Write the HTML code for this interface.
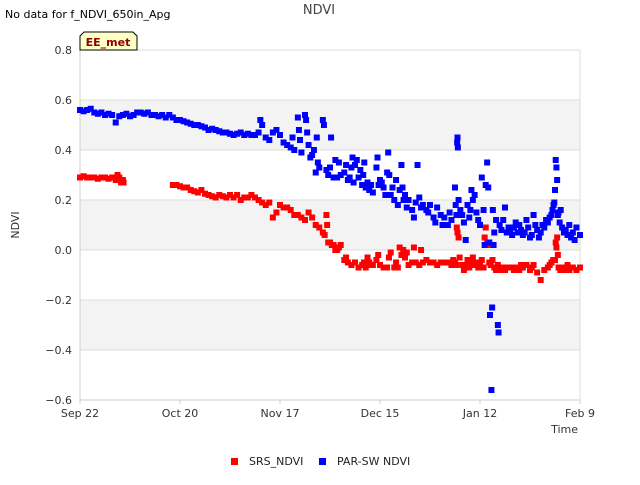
<!DOCTYPE html>
<html><head><meta charset="utf-8"><style>
body{margin:0;background:#fff;font-family:"Liberation Sans","DejaVu Sans",sans-serif;}
</style></head><body>
<svg id="chart" width="640" height="480" xmlns="http://www.w3.org/2000/svg" font-family="DejaVu Sans, Liberation Sans, sans-serif">
<text x="5" y="18" font-size="11" fill="#000">No data for f_NDVI_650in_Apg</text>
<text x="319" y="14" font-size="13" fill="#444" text-anchor="middle">NDVI</text>
<g id="bands"></g><g id="grid"></g>
<line x1="80" y1="50" x2="80" y2="400" stroke="#ccc"/>
<line x1="80" y1="400" x2="580" y2="400" stroke="#ccc"/>
<line x1="580" y1="50" x2="580" y2="400" stroke="#ddd"/>
<g id="yticks"></g><g id="xticks"></g>
<text transform="translate(19,225) rotate(-90)" font-size="11" fill="#333" text-anchor="middle">NDVI</text>
<text x="578" y="433" font-size="11" fill="#333" text-anchor="end">Time</text>
<g id="marks"></g>
<g>
<path d="M80,50 L80,36 L84,32 L133,32 L137,36 L137,50 Z" fill="#ffffc8" stroke="#000" stroke-width="1"/>
<text x="108" y="46" font-size="11" font-weight="bold" fill="#8b0000" text-anchor="middle">EE_met</text>
</g>
<g>
<rect x="231" y="458" width="7" height="7" fill="#f00"/>
<text x="249" y="465" font-size="11" fill="#222">SRS_NDVI</text>
<rect x="319" y="458" width="7" height="7" fill="#00f"/>
<text x="337" y="465" font-size="11" fill="#222">PAR-SW NDVI</text>
</g>
</svg>
<script>
const yTicks=[0.8,0.6,0.4,0.2,0.0,-0.2,-0.4,-0.6];
const yTickLabels=["0.8","0.6","0.4","0.2","0.0","\u22120.2","\u22120.4","\u22120.6"];
const xTickDays=[0,28,56,84,112,140];
const xTickLabels=["Sep 22","Oct 20","Nov 17","Dec 15","Jan 12","Feb 9"];
const srsPoints=[[0,0.29],[1,0.295],[2,0.29],[3,0.29],[4,0.29],[5,0.285],[6,0.29],[7,0.29],[8,0.285],[9,0.29],[10,0.28],[10.5,0.30],[11,0.29],[11.5,0.27],[12,0.28],[12.2,0.27],
[26,0.26],[27,0.26],[28,0.255],[29,0.25],[30,0.25],[31,0.24],[32,0.235],[33,0.23],[34,0.24],[35,0.225],[36,0.22],[37,0.215],[38,0.21],[39,0.22],[40,0.215],
[41,0.21],[42,0.22],[43,0.21],[44,0.22],[45,0.20],[46,0.21],[47,0.21],[48,0.22],[49,0.21],[50,0.20],
[51,0.19],[52,0.18],[53,0.19],[54,0.13],[55,0.15],[56,0.18],[57,0.17],[58,0.17],[59,0.16],[60,0.14],
[61,0.14],[62,0.13],[63,0.12],[64,0.15],[65,0.13],[66,0.10],[67,0.09],[68,0.07],[68.5,0.06],[69,0.14],[69.2,0.10],[69.5,0.03],
[70,0.03],[70.5,0.02],[71,0.02],[71.5,0.0],[72,0.0],[72.5,0.01],[73,0.02],[74,-0.04],[74.5,-0.03],[75,-0.05],[76,-0.06],[77,-0.05],[78,-0.07],[79,-0.06],[79.5,-0.05],[80,-0.07],[80.5,-0.03],[81,-0.05],[81.5,-0.06],[82,-0.06],[83,-0.04],[83.5,-0.02],[84,-0.06],[85,-0.07],[86,-0.07],[86.5,-0.03],[87,-0.01],[88,-0.07],[88.5,-0.05],[89,-0.07],[89.5,0.01],[90,-0.02],[90.5,0.0],[91,-0.03],[91.5,-0.01],[92,-0.06],[93,-0.05],[93.5,0.01],[94,-0.05],[95,-0.06],[95.5,0.0],[96,-0.05],[97,-0.04],[98,-0.05],[99,-0.05],[100,-0.06],[101,-0.05],[102,-0.05],[103,-0.05],[104,-0.06],[104.5,-0.04],[105,-0.05],[105.3,-0.06],[105.5,0.09],[105.7,0.07],[106,0.05],[106.3,-0.03],[107,-0.06],[107.5,-0.08],[108,-0.06],[108.5,-0.04],[109,-0.07],[109.5,-0.05],[110,-0.03],[110.5,-0.06],[111,-0.05],[111.5,-0.07],[112,-0.06],[112.5,-0.04],[113,-0.07],[113.3,0.05],[113.6,0.09],[114,0.03],[114.3,0.02],[114.6,-0.05],[115,-0.06],[115.5,-0.04],[116,-0.07],[116.5,-0.08],[117,-0.06],[117.5,-0.08],[118,-0.07],[119,-0.08],[119.5,-0.07],[120,-0.07],[121,-0.07],[121.5,-0.08],[122,-0.07],[123,-0.08],[123.5,-0.06],[124,-0.07],[125,-0.06],[126,-0.08],[126.5,-0.07],[127,-0.06],[128,-0.09],[129,-0.12],[130,-0.08],[131,-0.07],[131.5,-0.06],[132,-0.05],[132.5,-0.04],[133,-0.04],[133.2,0.03],[133.4,0.01],[133.6,0.05],[133.8,-0.02],[134,-0.07],[134.5,-0.08],[135,-0.07],[136,-0.08],[136.5,-0.06],[137,-0.08],[138,-0.07],[139,-0.08],[140,-0.07]];
const parPoints=[[0,0.56],[1,0.555],[2,0.56],[3,0.565],[4,0.55],[5,0.545],[6,0.55],[7,0.54],[8,0.545],[9,0.54],[10,0.51],[11,0.535],[12,0.54],[13,0.545],[14,0.535],[15,0.54],[16,0.55],[17,0.55],[18,0.545],[19,0.55],[20,0.54],[21,0.54],[22,0.535],[23,0.54],[24,0.53],[25,0.54],[26,0.53],[27,0.52],[28,0.52],[29,0.515],[30,0.51],[31,0.505],[32,0.50],[33,0.50],[34,0.495],[35,0.49],[36,0.48],[37,0.485],[38,0.48],[39,0.475],[40,0.47],
[41,0.47],[42,0.465],[43,0.46],[44,0.465],[45,0.47],[46,0.46],[47,0.465],[48,0.46],[49,0.46],[50,0.47],[50.5,0.52],[51,0.50],[52,0.45],[53,0.44],[54,0.47],[55,0.48],
[56,0.46],[57,0.43],[58,0.42],[59,0.41],[59.5,0.45],[60,0.40],[61,0.53],[61.3,0.48],[61.6,0.44],[62,0.39],[63,0.54],[63.3,0.52],[63.6,0.47],[64,0.42],[64.5,0.37],[65,0.38],[65.5,0.40],[66,0.31],[66.3,0.45],[66.6,0.35],[67,0.33],[68,0.52],[68.3,0.50],[69,0.32],[69.5,0.30],[70,0.33],[70.3,0.45],
[71,0.29],[71.5,0.36],[72,0.29],[72.5,0.35],[73,0.30],[74,0.31],[74.5,0.34],[75,0.28],[75.5,0.29],[76,0.33],[76.3,0.37],[76.6,0.27],[77,0.34],[77.5,0.36],[78,0.29],[78.5,0.32],[79,0.26],[79.3,0.30],[79.6,0.35],[80,0.25],[80.5,0.27],[81,0.24],[81.5,0.26],[82,0.23],[83,0.33],[83.3,0.37],[83.6,0.26],[84,0.28],[84.5,0.27],[85,0.25],[85.5,0.22],[86,0.31],[86.3,0.39],[86.6,0.30],[87,0.22],[87.5,0.25],[88,0.20],[88.5,0.28],[89,0.18],[89.5,0.24],[90,0.34],[90.3,0.25],[90.6,0.20],[91,0.22],[91.5,0.17],[92,0.20],[93,0.16],[93.5,0.13],[94,0.19],[94.5,0.34],[95,0.21],[95.5,0.17],[96,0.18],[97,0.16],[97.5,0.15],[98,0.18],[99,0.13],[99.5,0.11],[100,0.17],[101,0.14],[101.5,0.10],[102,0.13],[103,0.10],[103.5,0.15],[104,0.12],[105,0.25],[105.2,0.18],[105.4,0.14],[105.6,0.43],[105.7,0.45],[105.8,0.41],[106,0.20],[106.5,0.16],[107,0.14],[107.5,0.11],[108,0.04],[108.5,0.18],[109,0.13],[109.3,0.16],[109.6,0.24],[110,0.20],[110.5,0.22],[111,0.15],[111.5,0.12],[112,0.10],[112.5,0.29],[113,0.16],[113.3,0.02],[113.6,0.26],[114,0.35],[114.3,0.25],[114.6,0.03],[114.8,-0.26],[115.2,-0.56],[115.4,-0.23],[115.6,0.16],[115.8,0.02],[116,0.07],[116.5,0.12],[117,-0.30],[117.2,-0.33],[117.5,0.10],[118,0.08],[118.5,0.12],[119,0.17],[119.5,0.07],[120,0.09],[120.5,0.08],[121,0.06],[121.5,0.09],[122,0.11],[122.5,0.07],[123,0.10],[123.5,0.08],[124,0.06],[124.5,0.07],[125,0.12],[125.5,0.09],[126,0.05],[126.5,0.06],[127,0.14],[127.5,0.10],[128,0.08],[128.5,0.05],[129,0.07],[129.5,0.10],[130,0.09],[130.5,0.12],[131,0.11],[131.5,0.13],[132,0.14],[132.3,0.16],[132.6,0.18],[132.8,0.19],[133,0.24],[133.2,0.36],[133.4,0.33],[133.6,0.28],[133.8,0.14],[134,0.15],[134.3,0.11],[134.6,0.16],[135,0.09],[135.5,0.07],[136,0.08],[136.5,0.06],[137,0.10],[137.5,0.05],[138,0.07],[138.5,0.04],[139,0.09],[140,0.06]];
const NS="http://www.w3.org/2000/svg";
const X0=80,X1=580,Y0=50,Y1=400,DMAX=140,VMIN=-0.6,VMAX=0.8;
function xScale(d){return X0+d*(X1-X0)/DMAX;}
function yScale(v){return Y1-(v-VMIN)*(Y1-Y0)/(VMAX-VMIN);}
function mk(tag,attrs,parent){const e=document.createElementNS(NS,tag);for(const k in attrs)e.setAttribute(k,attrs[k]);parent.appendChild(e);return e;}
const bands=document.getElementById('bands'),grid=document.getElementById('grid'),yt=document.getElementById('yticks'),xt=document.getElementById('xticks'),marks=document.getElementById('marks');
[[0.6,0.4],[0.2,0.0],[-0.2,-0.4]].forEach(b=>{const r=mk('rect',{x:X0,y:yScale(b[0]),width:X1-X0,height:yScale(b[1])-yScale(b[0]),fill:'#f3f3f3'},bands);

});
yTicks.forEach((v,i)=>{const l=mk('line',{x1:X0,x2:X1,y1:yScale(v),y2:yScale(v),stroke:'#ddd'},grid);


const t=mk('text',{x:72,y:yScale(v)+4,'font-size':11,fill:'#333','text-anchor':'end'},yt);t.textContent=yTickLabels[i];

});
xTickDays.forEach((d,i)=>{const l=mk('line',{x1:xScale(d),x2:xScale(d),y1:Y1,y2:Y1+4,stroke:'#ccc'},xt);


const t=mk('text',{x:xScale(d),y:417,'font-size':11,fill:'#333','text-anchor':'middle'},xt);t.textContent=xTickLabels[i];

});
function drawSeries(pts,color,name){pts.forEach(p=>{const r=mk('rect',{x:xScale(p[0])-3,y:yScale(p[1])-3,width:6,height:6,fill:color},marks);

});}
drawSeries(srsPoints,'#ff0000','srs-ndvi-point');
drawSeries(parPoints,'#0000ff','par-sw-ndvi-point');
</script>
</body></html>
